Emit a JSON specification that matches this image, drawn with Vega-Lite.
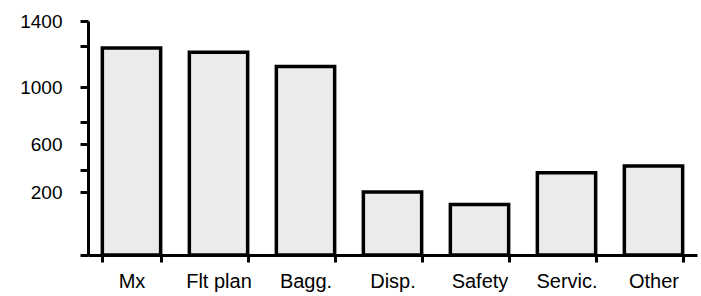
{
  "$schema": "https://vega.github.io/schema/vega-lite/v6.json",
  "width": 609,
  "height": 234,
  "autosize": "none",
  "padding": {"left": 88, "top": 21, "right": 4, "bottom": 41},
  "background": "white",
  "data": {
    "values": [
      {"category": "Mx", "value": 1190},
      {"category": "Flt plan", "value": 1170},
      {"category": "Bagg.", "value": 1100},
      {"category": "Disp.", "value": 200},
      {"category": "Safety", "value": 160},
      {"category": "Servic.", "value": 375},
      {"category": "Other", "value": 430}
    ]
  },
  "mark": {"type": "bar", "fill": "#ebebeb", "stroke": "black", "strokeWidth": 3.5},
  "encoding": {
    "x": {
      "field": "category",
      "type": "nominal",
      "sort": null,
      "scale": {"paddingInner": 0.33, "paddingOuter": 0.165},
      "axis": {
        "title": null,
        "labelAngle": 0,
        "tickBand": "extent",
        "domainColor": "black",
        "domainWidth": 3,
        "tickColor": "black",
        "tickWidth": 3,
        "tickSize": 7,
        "labelPadding": 9,
        "labelFont": "Liberation Sans",
        "labelFontSize": 20,
        "labelColor": "black"
      }
    },
    "y": {
      "field": "value",
      "type": "quantitative",
      "scale": {
        "domain": [0, 200, 400, 600, 800, 1000, 1200, 1400],
        "range": [234, 171, 149, 123, 101, 66, 25, 0]
      },
      "axis": {
        "title": null,
        "grid": false,
        "values": [0, 200, 400, 600, 800, 1000, 1200, 1400],
        "labelExpr": "datum.value == 200 || datum.value == 600 || datum.value == 1000 || datum.value == 1400 ? datum.label : ''",
        "format": "d",
        "domainColor": "black",
        "domainWidth": 3,
        "tickColor": "black",
        "tickWidth": 3,
        "tickSize": 8,
        "labelPadding": 18,
        "labelFont": "Liberation Sans",
        "labelFontSize": 19,
        "labelColor": "black"
      }
    }
  },
  "config": {"view": {"stroke": null}}
}
